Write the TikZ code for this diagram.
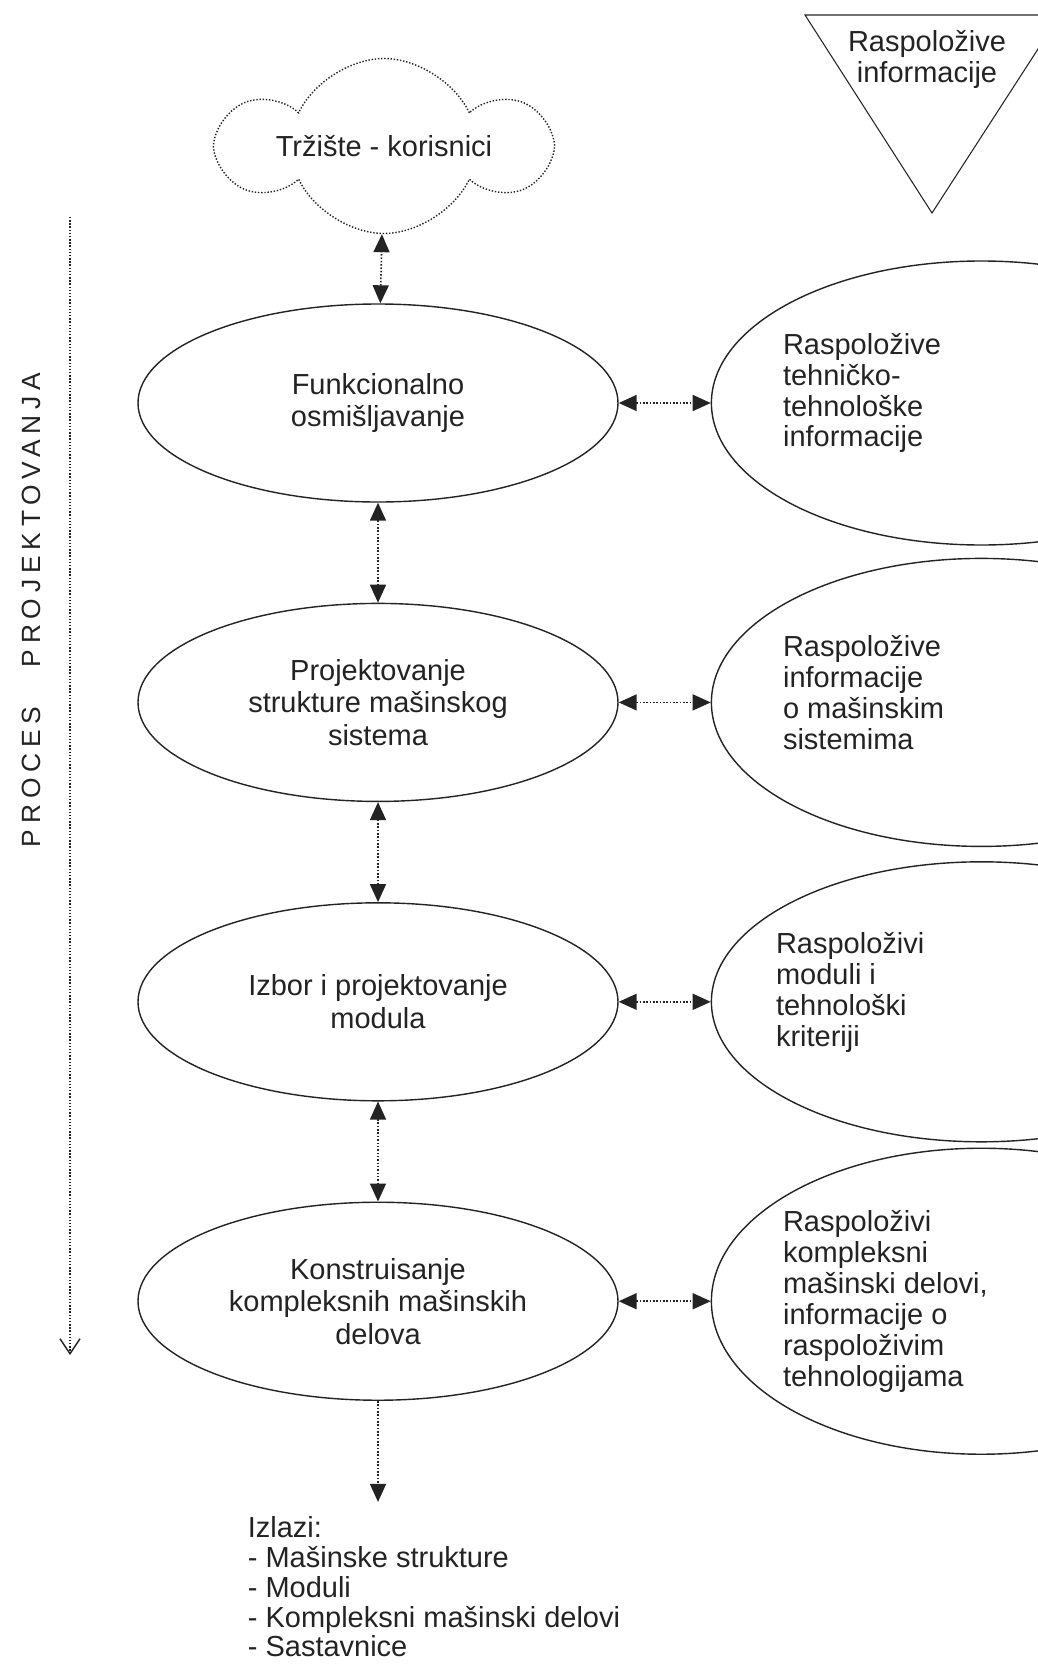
\documentclass[tikz,border=0pt]{standalone}
\usepackage{fontspec}
\setmainfont{Liberation Sans}
\newfontfamily\spaced[LetterSpace=22]{Liberation Sans}
\usepackage{tikz}
\usetikzlibrary{
  positioning, calc, arrows.meta, shapes.geometric, shapes.symbols
}
\definecolor{ink}{RGB}{35,35,35}
\tikzset{
  faza/.style={draw=ink,ellipse,line width=0.8pt,minimum width=9.6cm,
    minimum height=3.96cm,inner sep=0pt,text=ink,align=center,
    font=\fontsize{16.5}{18.5}\selectfont},
  izvor/.style={draw=ink,ellipse,line width=0.8pt,minimum width=10.8cm,
    inner sep=0pt},
  tekst/.style={inner sep=0pt,text=ink,align=left,
    font=\fontsize{16.5}{17.6}\selectfont},
  oblak/.style={draw=ink,cloud,cloud puffs=6,cloud puff arc=130,
    cloud ignores aspect,densely dotted,line width=0.8pt,
    minimum width=6.4cm,minimum height=3.5cm,inner sep=0pt,
    text=ink,font=\fontsize{16.5}{18}\selectfont},
  dvo/.style={{Triangle[length=3.6mm,width=3.2mm]}-{Triangle[length=3.6mm,width=3.2mm]},
    densely dotted,line width=0.9pt,ink},
  jedno/.style={-{Triangle[length=3.6mm,width=3.2mm]},densely dotted,
    line width=0.9pt,ink},
}

\begin{document}
\begin{tikzpicture}[node distance=2cm]
  \useasboundingbox (0,0) rectangle (20.76,-33.28);
  \clip (0,0) rectangle (20.76,-33.28);
  % market on top
  \node[oblak] (trz) at (7.68,-2.92) {Tržište - korisnici};
  % phases of the design process
  \node[faza] (f1) at (7.56,-8.06) {Funkcionalno\\osmišljavanje};
  \node[faza,below=of f1] (f2) {Projektovanje\\strukture mašinskog\\sistema};
  \node[faza,below=of f2] (f3) {Izbor i projektovanje\\modula};
  \node[faza,below=of f3] (f4) {Konstruisanje\\kompleksnih mašinskih\\delova};
  % available information on the right
  \node[izvor,minimum height=5.68cm,right=1.84cm of f1] (i1) {};
  \node[izvor,minimum height=5.76cm,right=1.84cm of f2] (i2) {};
  \node[izvor,minimum height=5.6cm,right=1.84cm of f3] (i3) {};
  \node[izvor,minimum height=6.12cm,right=1.84cm of f4] (i4) {};
  \node[tekst,right=1.44cm of i1.west,yshift=0.2cm] (t1)
    {Raspoložive\\tehničko-\\tehnološke\\informacije};
  \node[tekst,right=1.44cm of i2.west,yshift=0.2cm] (t2)
    {Raspoložive\\informacije\\o mašinskim\\sistemima};
  \node[tekst,right=1.3cm of i3.west,yshift=0.18cm] (t3)
    {Raspoloživi\\moduli i\\tehnološki\\kriteriji};
  \node[tekst,right=1.44cm of i4.west] (t4)
    {Raspoloživi\\kompleksni\\mašinski delovi,\\informacije o\\raspoloživim\\tehnologijama};
  % triangle in the corner
  \node[tekst,align=center] (info) at (18.54,-1.18) {Raspoložive\\informacije};
  \draw[ink,line width=0.6pt] (16.1,-0.3) -- (21.2,-0.3) -- (18.64,-4.26) -- cycle;
  % links
  \draw[dvo] (f1) -- (trz);
  \draw[dvo] (f1) -- (f2);
  \draw[dvo] (f2) -- (f3);
  \draw[dvo] (f3) -- (f4);
  \draw[dvo] (f1) -- (i1);
  \draw[dvo] (f2) -- (i2);
  \draw[dvo] (f3) -- (i3);
  \draw[dvo] (f4) -- (i4);
  % outputs
  \coordinate[below=2.02cm of f4.south] (izl);
  \draw[jedno] (f4) -- (izl);
  \node[tekst,anchor=north west,font=\fontsize{16.5}{17}\selectfont] (izlazi)
    at (4.95,-30.32) {Izlazi:\\- Mašinske strukture\\- Moduli\\
    - Kompleksni mašinski delovi\\- Sastavnice};
  % process axis
  \coordinate (pa) at (1.4,-4.34);
  \coordinate (pb) at (1.4,-27.1);
  \draw[ink,densely dotted,line width=0.8pt,-{Straight Barb[length=3mm,width=4mm]}]
    (pa) -- (pb);
  \node[rotate=90,text=ink,font=\spaced\fontsize{15}{17}\selectfont] (proces)
    at (0.62,-12.2) {PROCES\quad\ PROJEKTOVANJA};
\end{tikzpicture}
\end{document}
